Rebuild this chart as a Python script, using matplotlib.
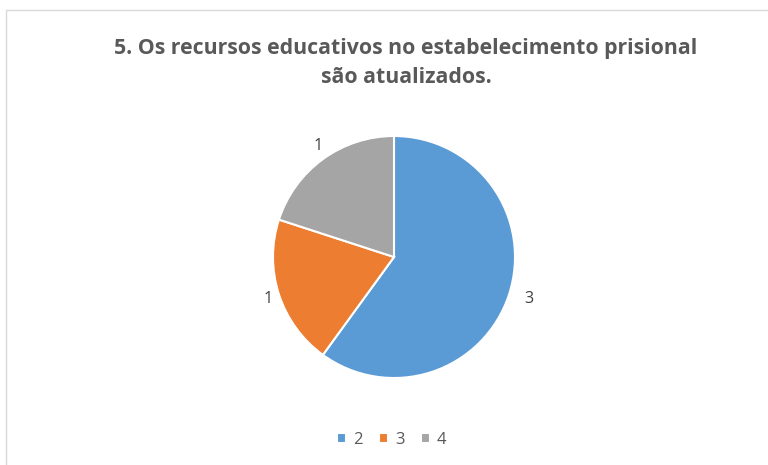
import matplotlib.pyplot as plt
from matplotlib.patches import Rectangle

categories = ['2', '3', '4']
values = [3, 1, 1]
colors = ['#5b9bd5', '#ed7d31', '#a5a5a5']
title = '5. Os recursos educativos no estabelecimento prisional\nsão atualizados.'

W, H = 768, 465
fig = plt.figure(figsize=(W / 100, H / 100), dpi=100)
ax = fig.add_axes([0, 0, 1, 1])

# chart frame
fig.patches.append(Rectangle((6 / W, -0.1), 1.2, (H - 10) / H + 0.1, transform=fig.transFigure,
                             fill=False, edgecolor='#d9d9d9', linewidth=1))

wedges, texts = ax.pie(values, colors=colors, startangle=90, counterclock=False,
                       center=(394, H - 257), radius=121, labels=[str(v) for v in values],
                       labeldistance=1.13, frame=True,
                       wedgeprops=dict(edgecolor='white', linewidth=1.5),
                       textprops=dict(color='#404040', fontsize=11.5, family='Open Sans'))
ax.set_xlim(0, W)
ax.set_ylim(0, H)
ax.set_aspect('equal')
ax.axis('off')

fig.text(406 / W, 1 - 63 / H, title, ha='center', va='center', fontsize=15.3,
         fontweight='bold', color='#595959', family='Open Sans', linespacing=1.5)

ax.legend(wedges, categories, loc='center', bbox_to_anchor=(392 / W, 1 - 440 / H),
          ncol=3, frameon=False, handlelength=0.55, handleheight=0.55, handletextpad=0.4,
          columnspacing=1.0, prop=dict(family='Open Sans', size=12),
          labelcolor='#595959')

fig.savefig('out.png', dpi=100)
